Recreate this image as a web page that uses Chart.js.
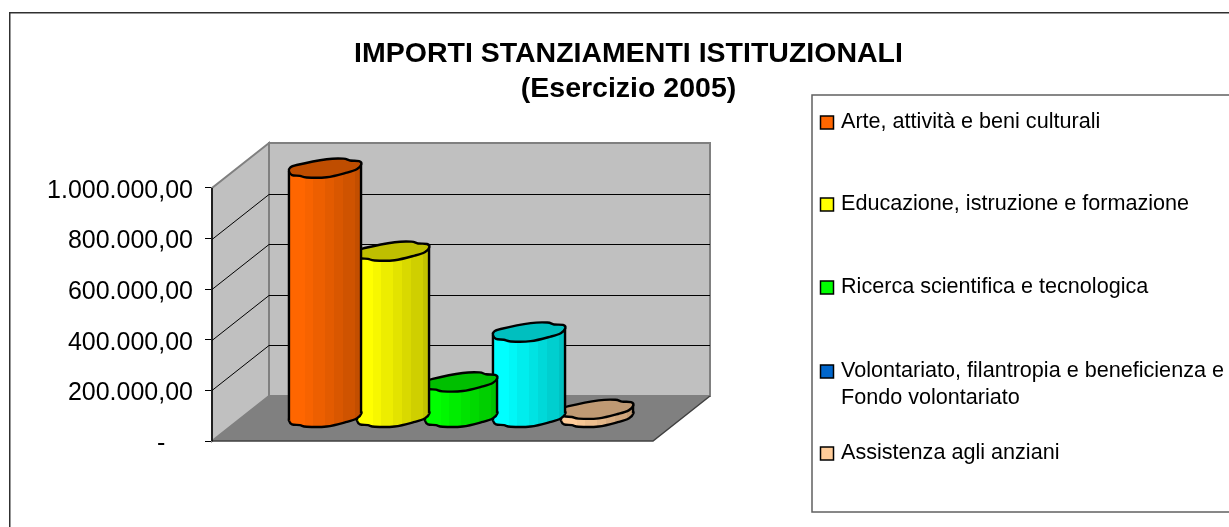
<!DOCTYPE html>
<html><head><meta charset="utf-8">
<style>html,body{margin:0;padding:0;background:#fff}canvas{display:block}</style>
<script src="https://cdn.jsdelivr.net/npm/chart.js@4/dist/chart.umd.min.js"></script>
</head><body>
<div style="width:1229px;height:527px"><canvas id="c" width="1229" height="527"></canvas></div>
<script>
const categories = ["Esercizio 2005"];
const seriesNames = ["Arte, attività e beni culturali","Educazione, istruzione e formazione","Ricerca scientifica e tecnologica","Volontariato, filantropia e beneficienza e Fondo volontariato","Assistenza agli anziani"];
const seriesValues = [990000, 662000, 145000, 342000, 37000];
const barColors = ["#FF6600","#FFFF00","#00FF00","#00FFFF","#FFCC99"];
const legendColors = ["#FF6600","#FFFF00","#00FF00","#0066CC","#FFCC99"];
const legendLines = [["Arte, attività e beni culturali"],["Educazione, istruzione e formazione"],["Ricerca scientifica e tecnologica"],["Volontariato, filantropia e beneficienza e","Fondo volontariato"],["Assistenza agli anziani"]];
const legendY = [122,204,287,371,453];
const titleLines = ["IMPORTI STANZIAMENTI ISTITUZIONALI","(Esercizio 2005)"];
const yTicks = [0,200000,400000,600000,800000,1000000];

const DEPTH = {x:57,y:-45};
// Outline of a bar's end cap, in units of half bar width
const CAP = [[-36,3.2],[-35,-.2],[-28.3,-3],[1.7,-8.8],[18.3,-9.4],[25,-7.5],[34,-7],[36.3,-3.8],[31.7,1.2],[21.7,4.6],[1.7,9.2],[-18.3,9.5],[-25,7.8],[-33,7]].map(p=>[p[0]/36,p[1]/36]);
const BANDS = [[0,1],[.22,.97],[.34,.93],[.5,.89],[.62,.85],[.745,.81],[.92,.76]];

function shade(hex,f){const n=parseInt(hex.slice(1),16);return `rgb(${Math.round((n>>16&255)*f)},${Math.round((n>>8&255)*f)},${Math.round((n&255)*f)})`}
function spline(ctx,pts){
  const n=pts.length,k=1/6;
  ctx.moveTo(pts[0][0],pts[0][1]);
  for(let i=0;i<n;i++){
    const p0=pts[(i+n-1)%n],p1=pts[i],p2=pts[(i+1)%n],p3=pts[(i+2)%n];
    ctx.bezierCurveTo(p1[0]+(p2[0]-p0[0])*k,p1[1]+(p2[1]-p0[1])*k,p2[0]-(p3[0]-p1[0])*k,p2[1]-(p3[1]-p1[1])*k,p2[0],p2[1]);
  }
  ctx.closePath();
}
const scene = {
  id:'scene',
  beforeDatasetsDraw(chart){
    const {ctx,scales:{x,y}}=chart, a=chart.chartArea;
    const L=a.left,R=a.right,B=y.getPixelForValue(0),T=y.getPixelForValue(1000000),dx=DEPTH.x,dy=DEPTH.y;
    ctx.save();
    ctx.fillStyle='#C0C0C0';ctx.strokeStyle='#808080';ctx.lineWidth=2;
    ctx.beginPath();ctx.moveTo(L,B);ctx.lineTo(L,T);ctx.lineTo(L+dx,T+dy);ctx.lineTo(L+dx,B+dy);ctx.closePath();ctx.fill();ctx.stroke();
    ctx.beginPath();ctx.rect(L+dx,T+dy,R-L,B-T);ctx.fill();ctx.stroke();
    ctx.fillStyle='#808080';
    ctx.beginPath();ctx.moveTo(L,B);ctx.lineTo(R,B);ctx.lineTo(R+dx,B+dy);ctx.lineTo(L+dx,B+dy);ctx.closePath();ctx.fill();
    ctx.strokeStyle='#404040';ctx.lineWidth=1.5;ctx.beginPath();ctx.moveTo(L,B);ctx.lineTo(R,B);ctx.lineTo(R+dx,B+dy);ctx.stroke();
    ctx.strokeStyle='#000';ctx.lineWidth=1;
    yTicks.slice(1,-1).forEach(v=>{
      const p=Math.round(y.getPixelForValue(v))+.5;
      ctx.beginPath();ctx.moveTo(L,p);ctx.lineTo(L+dx,p+dy);ctx.lineTo(R+dx,p+dy);ctx.stroke();
    });
    ctx.strokeStyle='#000';ctx.lineWidth=1.5;
    ctx.beginPath();ctx.moveTo(L,T);ctx.lineTo(L,B);ctx.stroke();
    ctx.restore();
  },
  beforeDatasetDraw(chart,args){
    const {ctx}=chart,meta=args.meta,el=meta.data[0],col=barColors[args.index];
    const r=el.width/2,cx=el.x+DEPTH.x/2,top=el.y+DEPTH.y/2,base=el.base+DEPTH.y/2-.7;
    const capAt=cy=>CAP.map(p=>[cx+p[0]*r,cy+p[1]*r]);
    const lx=cx-r,rx=cx+r;
    ctx.save();
    const g=ctx.createLinearGradient(lx,0,rx,0);
    BANDS.forEach((b,i)=>{const e=i<BANDS.length-1?BANDS[i+1][0]:1;g.addColorStop(b[0],shade(col,b[1]));g.addColorStop(e,shade(col,b[1]));});
    ctx.fillStyle=g;ctx.strokeStyle='#000';ctx.lineWidth=2.4;ctx.lineJoin='round';
    const yl=CAP[0][1]*r, yr=CAP[7][1]*r;
    ctx.beginPath();spline(ctx,capAt(base));ctx.fill();ctx.stroke();
    ctx.beginPath();ctx.moveTo(lx,top+yl);ctx.lineTo(rx,top+yr);ctx.lineTo(rx,base+yr);ctx.lineTo(lx,base+yl);ctx.closePath();ctx.fill();
    ctx.beginPath();spline(ctx,capAt(top));ctx.fill();
    ctx.beginPath();ctx.moveTo(lx,top+yl);ctx.lineTo(lx,base+yl);ctx.moveTo(rx,top+yr);ctx.lineTo(rx,base+yr);ctx.stroke();
    ctx.fillStyle=shade(col,.75);ctx.beginPath();spline(ctx,capAt(top));ctx.fill();ctx.stroke();
    ctx.restore();
    return false;
  },
  afterDraw(chart){
    const {ctx}=chart;
    ctx.save();
    ctx.strokeStyle='#303030';ctx.lineWidth=1.5;
    ctx.strokeRect(9.75,12.75,1400,1000);
    ctx.fillStyle='#fff';ctx.fillRect(812,95,500,417);
    ctx.strokeStyle='#606060';
    ctx.strokeRect(812,95,500,417);
    ctx.font='21.6px "Liberation Sans"';ctx.textBaseline='middle';ctx.textAlign='left';
    legendLines.forEach((ls,i)=>{
      const sy=legendY[i];
      ctx.fillStyle=legendColors[i];ctx.strokeStyle='#000';ctx.lineWidth=1.5;
      ctx.fillRect(820.5,sy-6,13,13);ctx.strokeRect(820.5,sy-6,13,13);
      ctx.fillStyle='#000';
      ls.forEach((t,j)=>ctx.fillText(t,841,sy+j*27.5));
    });
    ctx.restore();
  }
};
new Chart(document.getElementById('c'),{
  type:'bar',
  data:{labels:categories,datasets:seriesNames.map((n,i)=>({label:n,data:[seriesValues[i]],backgroundColor:barColors[i],barPercentage:1.06,categoryPercentage:.771}))},
  plugins:[scene],
  options:{
    responsive:false,animation:false,events:[],
    layout:{padding:{left:28,right:0,top:37,bottom:86}},
    plugins:{
      legend:{display:false},tooltip:{enabled:false},
      title:{display:true,text:titleLines,color:'#000',font:{family:'"Liberation Sans"',size:28.5,weight:'bold',lineHeight:1.228},padding:{top:0,bottom:81}}
    },
    scales:{
      x:{display:false,stacked:false},
      y:{min:0,max:1000000,position:'left',afterFit(s){s.width=184},
        afterBuildTicks(s){s.ticks=yTicks.map(v=>({value:v}))},
        grid:{drawOnChartArea:false,drawTicks:true,tickLength:7,color:'#000'},border:{color:'#000',width:1},
        ticks:{color:'#000',padding:12,font:{family:'"Liberation Sans"',size:25,lineHeight:'6px'},
          callback:v=>['',v===0?'-    ':v.toLocaleString('it-IT',{minimumFractionDigits:2,maximumFractionDigits:2}).replace(/^(\d)(\d{3})\./,'$1.$2.')]}},
      gutter:{position:'right',afterFit(s){s.width=576},grid:{display:false},border:{display:false},ticks:{display:false}}
    }
  }
});
</script>
</body></html>
